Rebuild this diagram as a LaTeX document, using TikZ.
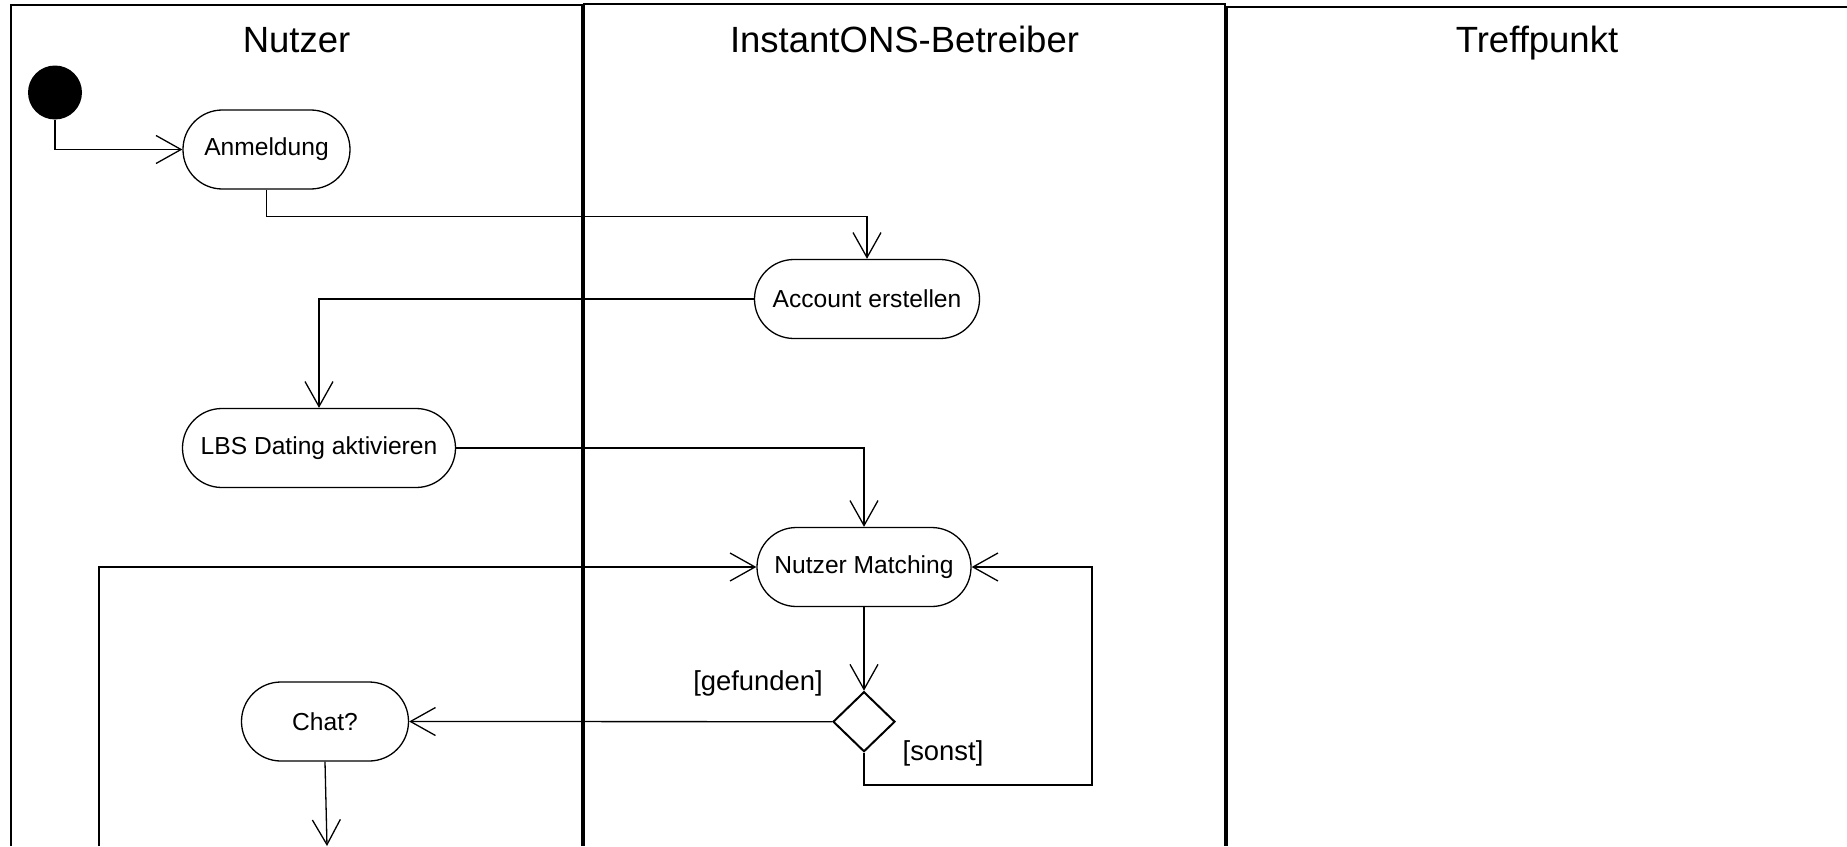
\documentclass[tikz,border=0pt]{standalone}
\usepackage{fontspec}
\setmainfont{Liberation Sans}
\usetikzlibrary{arrows.meta,shapes.geometric}

\tikzset{
  lane/.style={line width=1pt},
  lanetitle/.style={anchor=base, inner sep=0pt, font=\fontsize{18.25}{21}\selectfont},
  action/.style={draw, line width=0.65pt, rectangle, rounded corners=19.7pt,
    minimum height=39.5pt, inner sep=0pt, font=\fontsize{12.3}{14}\selectfont},
  startnode/.style={circle, fill=black, minimum size=27pt, inner sep=0pt},
  decision/.style={draw, diamond, line width=1pt, minimum width=31pt,
    minimum height=30pt, inner sep=0pt},
  guard/.style={anchor=base, inner sep=0pt, font=\fontsize{13.7}{16}\selectfont},
  flow/.style={line width=0.65pt, -{Straight Barb[length=12.5pt, width=14pt, line width=0.65pt]}}
}

\begin{document}
\begin{tikzpicture}[x=0.5pt, y=-0.5pt]
  \useasboundingbox (0,0) rectangle (1847,846);

  % swimlanes
  \draw[lane] (11,846) -- (11,5) -- (582,5) -- (582,846);
  \draw[lane] (584,846) -- (584,4) -- (1225,4) -- (1225,846);
  \draw[lane] (1227,846) -- (1227,7) -- (1847,7);

  \node[lanetitle] (t1) at (296.5,52) {Nutzer};
  \node[lanetitle] (t2) at (904.5,52) {InstantONS-Betreiber};
  \node[lanetitle] (t3) at (1537,52) {Treffpunkt};

  % activities
  \node[startnode] (init) at (55,92.5) {};
  \node[action, minimum width=83.5pt] (anm) at (266.5,149.5) {Anmeldung};
  \node[action, minimum width=112.5pt] (acc) at (867,299) {Account erstellen};
  \node[action, minimum width=136.5pt] (lbs) at (319,448) {LBS Dating aktivieren};
  \node[action, minimum width=107pt] (nm) at (864,567) {Nutzer Matching};
  \node[decision] (dec) at (864,721.7) {};
  \node[action, minimum width=83.5pt] (chat) at (325,721.5) {Chat?};

  % free ends at the lower edge
  \coordinate (entry) at (99,846);
  \coordinate (chatout) at (327,846);
  \coordinate (loopc) at (1092,785);

  % control flow
  \draw[flow] (init.south) |- (anm.west);
  \draw[flow] (anm.south) -- ++(0,26.5) -| (acc.north);
  \draw[flow] (acc.west) -| (lbs.north);
  \draw[flow] (lbs.east) -| (nm.north);
  \draw[flow] (nm.south) -- (dec.north);
  \draw[flow] (dec.west) -- (chat.east);
  \draw[flow] (dec.south) |- (loopc) |- (nm.east);
  \draw[flow] (entry) |- (nm.west);
  \draw[flow] (chat.south) -- (chatout);

  % guards
  \node[guard] (g1) at (758,690) {[gefunden]};
  \node[guard] (g2) at (943,760) {[sonst]};
\end{tikzpicture}
\end{document}
